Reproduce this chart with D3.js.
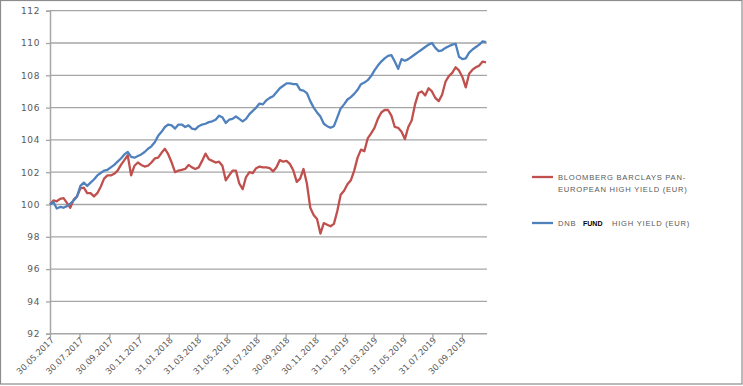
<!DOCTYPE html>
<html><head><meta charset="utf-8">
<script src="https://cdn.jsdelivr.net/npm/d3@7"></script>
<style>body{margin:0;background:#fff}svg{display:block}</style>
</head><body>
<svg id="c" width="743" height="386"></svg>
<script>
const dates = ["2017-05-30","2017-06-06","2017-06-13","2017-06-20","2017-06-27","2017-07-04","2017-07-11","2017-07-18","2017-07-25","2017-08-01",
"2017-08-08","2017-08-15","2017-08-22","2017-08-29","2017-09-05","2017-09-12","2017-09-19","2017-09-26","2017-10-03","2017-10-10",
"2017-10-17","2017-10-24","2017-10-31","2017-11-07","2017-11-14","2017-11-21","2017-11-28","2017-12-05","2017-12-12","2017-12-19",
"2017-12-26","2018-01-02","2018-01-09","2018-01-16","2018-01-23","2018-01-30","2018-02-06","2018-02-13","2018-02-20","2018-02-27",
"2018-03-06","2018-03-13","2018-03-20","2018-03-27","2018-04-03","2018-04-10","2018-04-17","2018-04-24","2018-05-01","2018-05-08",
"2018-05-15","2018-05-22","2018-05-29","2018-06-05","2018-06-12","2018-06-19","2018-06-26","2018-07-03","2018-07-10","2018-07-17",
"2018-07-24","2018-07-31","2018-08-07","2018-08-14","2018-08-21","2018-08-28","2018-09-04","2018-09-11","2018-09-18","2018-09-25",
"2018-10-02","2018-10-09","2018-10-16","2018-10-23","2018-10-30","2018-11-06","2018-11-13","2018-11-20","2018-11-27","2018-12-04",
"2018-12-11","2018-12-18","2018-12-25","2019-01-01","2019-01-08","2019-01-15","2019-01-22","2019-01-29","2019-02-05","2019-02-12",
"2019-02-19","2019-02-26","2019-03-05","2019-03-12","2019-03-19","2019-03-26","2019-04-02","2019-04-09","2019-04-16","2019-04-23",
"2019-04-30","2019-05-07","2019-05-14","2019-05-21","2019-05-28","2019-06-04","2019-06-11","2019-06-18","2019-06-25","2019-07-02",
"2019-07-09","2019-07-16","2019-07-23","2019-07-30","2019-08-06","2019-08-13","2019-08-20","2019-08-27","2019-09-03","2019-09-10",
"2019-09-17","2019-09-24","2019-10-01","2019-10-08","2019-10-15","2019-10-22","2019-10-29","2019-11-05","2019-11-12","2019-11-19"];

const fundValues = [100.0,100.15,99.75,99.85,99.8,99.9,100.05,100.25,100.5,101.15,
101.35,101.15,101.35,101.55,101.8,101.95,102.1,102.15,102.3,102.45,
102.65,102.85,103.1,103.25,102.95,102.9,103.0,103.1,103.25,103.45,
103.6,103.85,104.25,104.5,104.8,104.95,104.9,104.7,104.95,104.95,
104.8,104.9,104.7,104.65,104.85,104.95,105.0,105.1,105.15,105.25,
105.5,105.4,105.05,105.25,105.3,105.45,105.3,105.15,105.3,105.6,
105.8,106.0,106.25,106.2,106.45,106.6,106.7,106.95,107.2,107.35,
107.5,107.5,107.45,107.45,107.1,107.05,106.9,106.4,106.0,105.7,
105.45,105.0,104.85,104.75,104.85,105.4,105.95,106.2,106.5,106.65,
106.85,107.1,107.45,107.55,107.7,107.95,108.3,108.6,108.85,109.05,
109.2,109.25,108.85,108.4,109.0,108.9,109.0,109.15,109.3,109.45,
109.6,109.75,109.9,110.0,109.7,109.5,109.55,109.7,109.8,109.9,
109.95,109.15,109.0,109.05,109.4,109.6,109.75,109.9,110.1,110.05];

const benchValues = [100.0,100.25,100.2,100.35,100.4,100.1,99.8,100.3,100.5,101.0,
101.05,100.7,100.7,100.5,100.7,101.1,101.6,101.8,101.8,101.9,
102.1,102.45,102.75,103.05,101.8,102.4,102.6,102.45,102.35,102.4,
102.6,102.85,102.9,103.2,103.45,103.1,102.6,102.0,102.1,102.15,
102.2,102.45,102.3,102.2,102.3,102.7,103.15,102.8,102.7,102.6,
102.65,102.4,101.5,101.8,102.1,102.1,101.3,100.95,101.7,102.0,
101.95,102.25,102.35,102.3,102.3,102.25,102.05,102.3,102.75,102.65,
102.7,102.5,102.1,101.4,101.6,102.2,101.3,99.8,99.35,99.1,
98.2,98.85,98.75,98.65,98.8,99.6,100.6,100.85,101.25,101.5,
102.1,102.9,103.4,103.3,104.1,104.4,104.75,105.3,105.7,105.85,
105.85,105.5,104.8,104.75,104.5,104.05,104.8,105.2,106.2,106.9,
107.0,106.75,107.2,107.0,106.6,106.4,106.8,107.6,107.95,108.15,
108.5,108.3,107.9,107.25,108.1,108.35,108.5,108.6,108.85,108.8];

const xTickDates = ["2017-05-30","2017-07-30","2017-09-30","2017-11-30","2018-01-31","2018-03-31","2018-05-31","2018-07-31",
"2018-09-30","2018-11-30","2019-01-31","2019-03-31","2019-05-31","2019-07-31","2019-09-30"];
const yTicks = [92,94,96,98,100,102,104,106,108,110,112];
const colors = ["#C0504D","#4F81BD"];

const parse = d3.timeParse("%Y-%m-%d");
const fmt = d3.timeFormat("%d.%m.%Y");
const svg = d3.select("#c");
const L = 50, R = 487, T = 10.7, B = 333.7;

svg.append("rect").attr("x",0.5).attr("y",0.5).attr("width",741.5).attr("height",383.5)
  .attr("fill","#fff").attr("stroke","#8c8c8c").attr("stroke-width",1.2);

const x = d3.scaleTime().domain([parse("2017-05-30"), parse("2019-11-21")]).range([L, R]);
const y = d3.scaleLinear().domain([92,112]).range([B, T]);

svg.append("g").selectAll("line").data(yTicks.slice(1)).join("line")
  .attr("x1",L).attr("x2",R).attr("y1",d=>y(d)).attr("y2",d=>y(d))
  .attr("stroke","#a6a6a6").attr("stroke-width",1.3);

const yAxis = svg.append("g").attr("transform",`translate(${L},0)`)
  .call(d3.axisLeft(y).tickValues(yTicks).tickSize(4).tickPadding(6).tickFormat(d3.format("d")));
yAxis.select(".domain").attr("stroke","#a6a6a6").attr("stroke-width",1.5);
yAxis.selectAll(".tick line").attr("stroke","#a6a6a6").attr("stroke-width",1.3);
yAxis.selectAll("text").attr("fill","#595959").style("font-family","'DejaVu Sans', sans-serif").style("font-size","9px").attr("letter-spacing","0.6");

const xAxis = svg.append("g").attr("transform",`translate(0,${B})`)
  .call(d3.axisBottom(x).tickValues(xTickDates.map(parse)).tickSize(4).tickSizeOuter(0).tickFormat(fmt));
xAxis.select(".domain").attr("stroke","#a6a6a6").attr("stroke-width",1.5).attr("d",`M${L},0H${R}`);
xAxis.selectAll(".tick line").attr("stroke","#a6a6a6").attr("stroke-width",1.3);
xAxis.selectAll("text").attr("fill","#595959").style("font-family","'DejaVu Sans', sans-serif").style("font-size","8.5px")
  .attr("text-anchor","end").attr("dy",0).attr("y",0)
  .attr("transform","translate(4,7) rotate(-45)");

const line = d3.line().x((d,i)=>x(parse(dates[i]))).y(d=>y(d));
[benchValues, fundValues].forEach((vals,i)=>{
  svg.append("path").datum(vals).attr("d",line).attr("fill","none")
    .attr("stroke",colors[i]).attr("stroke-width",2.3).attr("stroke-linejoin","round");
});

const lg = svg.append("g").style("font-family","'Liberation Sans', sans-serif").style("font-size","7.6px").attr("fill","#595959");
lg.append("line").attr("x1",532).attr("x2",553).attr("y1",177).attr("y2",177).attr("stroke",colors[0]).attr("stroke-width",2.3);
lg.append("text").attr("x",558).attr("y",180).attr("letter-spacing","0.75").text("BLOOMBERG BARCLAYS PAN-");
lg.append("text").attr("x",558).attr("y",191.5).attr("letter-spacing","0.75").text("EUROPEAN HIGH YIELD (EUR)");
lg.append("line").attr("x1",532).attr("x2",553).attr("y1",223).attr("y2",223).attr("stroke",colors[1]).attr("stroke-width",2.3);
lg.append("text").attr("x",558).attr("y",226).attr("letter-spacing","0.75").text("DNB");
lg.append("text").attr("x",583).attr("y",226).attr("fill","#000").style("font-weight","bold").style("font-size","7px").text("FUND");
lg.append("text").attr("x",612).attr("y",226).attr("letter-spacing","0.75").text("HIGH YIELD (EUR)");
</script>
</body></html>
